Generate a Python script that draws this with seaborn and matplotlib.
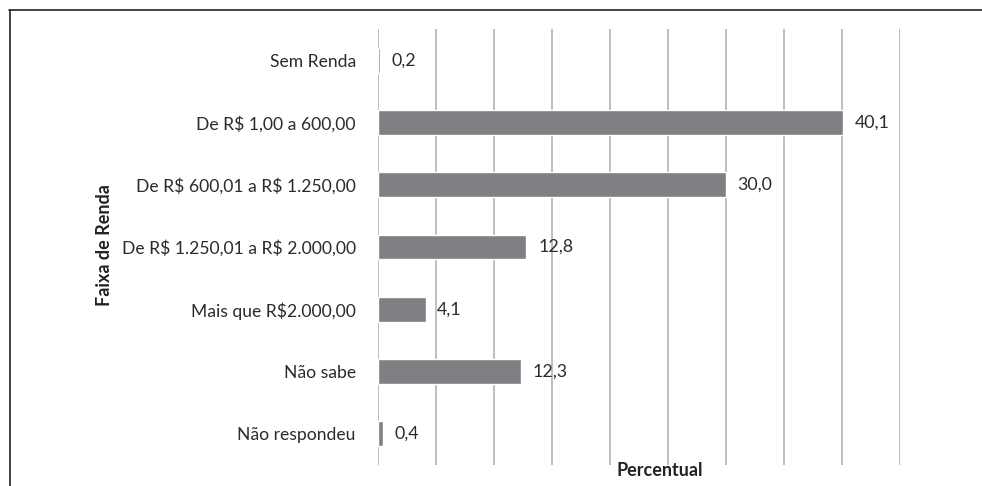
import matplotlib
matplotlib.use("Agg")
import matplotlib.pyplot as plt
from matplotlib.lines import Line2D
import seaborn as sns
import pandas as pd

categories = ["Sem Renda", "De R$ 1,00 a 600,00", "De R$ 600,01 a R$ 1.250,00",
              "De R$ 1.250,01 a R$ 2.000,00", "Mais que R$2.000,00", "Não sabe", "Não respondeu"]
values = [0.2, 40.1, 30.0, 12.8, 4.1, 12.3, 0.4]
value_labels = ["0,2", "40,1", "30,0", "12,8", "4,1", "12,3", "0,4"]

df = pd.DataFrame({"Faixa": categories, "Percentual": values})

sns.set_theme(style="white")
plt.rcParams['font.family'] = ['Lato', 'DejaVu Sans']
plt.rcParams['text.parse_math'] = False

W, H = 982, 486
fig = plt.figure(figsize=(W / 100, H / 100), dpi=100)
ax = fig.add_axes([378 / W, 1 - 465 / H, (900 - 378) / W, (465 - 29) / H])

sns.barplot(data=df, y="Faixa", x="Percentual", orient="h", color="#808084",
            saturation=1, width=0.4, ax=ax, order=categories)

ax.set_xlim(0, 45)
ax.set_ylim(6.5, -0.5)
ax.set_xticks(range(0, 50, 5))
ax.set_xticklabels([])
ax.grid(axis="x", color="#BEBEC0", linewidth=1.4)
ax.set_axisbelow(True)
for s in ax.spines.values():
    s.set_visible(False)
ax.tick_params(axis="both", length=0)
ax.tick_params(axis="y", pad=16, labelsize=12.6, labelcolor="#2b2b2b")

for i, (v, lab) in enumerate(zip(values, value_labels)):
    ax.text(v + 1.0, i, lab, va="center", ha="left", fontsize=12.8, color="#2b2b2b")

ax.set_xlabel("")
ax.set_ylabel("")
fig.text(660 / W, 1 - 470 / H, "Percentual", ha="center", va="center",
         fontsize=13, fontweight="bold", color="#222222")
fig.text(105 / W, 1 - 245 / H, "Faixa de Renda", ha="center", va="center",
         rotation=90, fontsize=13, fontweight="bold", color="#222222")

fig.add_artist(Line2D([9.5 / W, 9.5 / W], [1 - 10 / H, 0], transform=fig.transFigure,
                      color="#222222", linewidth=1.2))
fig.add_artist(Line2D([9 / W, 1], [1 - 10 / H, 1 - 10 / H], transform=fig.transFigure,
                      color="#222222", linewidth=1.2))

fig.savefig("out.png", dpi=100)
